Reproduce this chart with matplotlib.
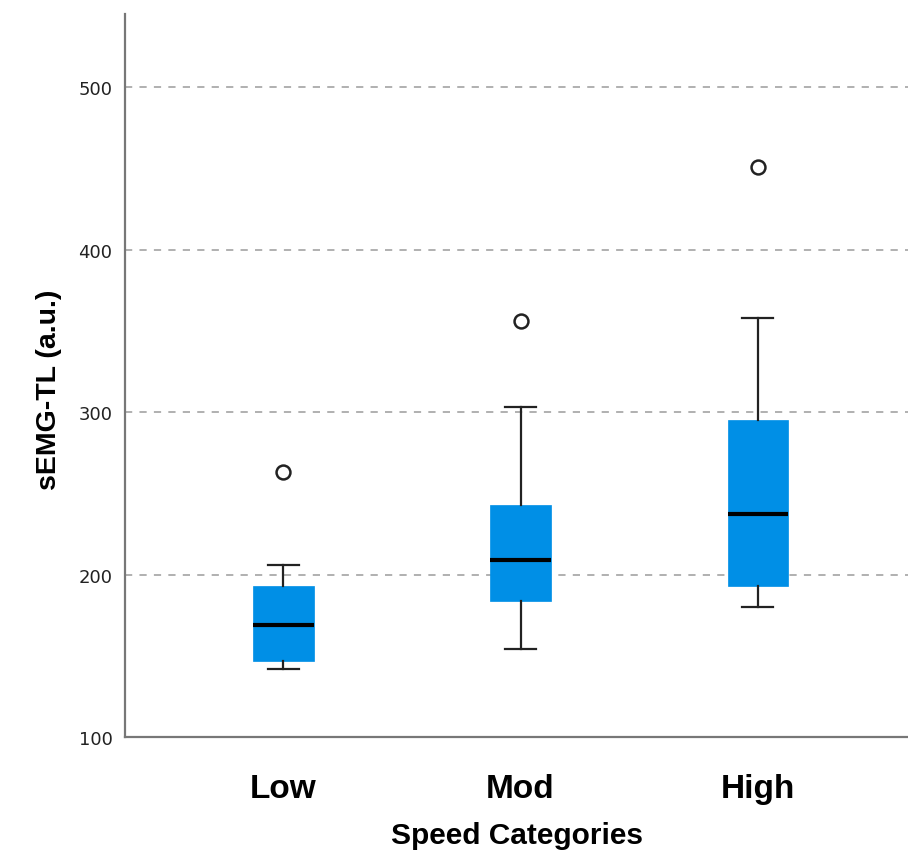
import matplotlib
matplotlib.use("Agg")
import matplotlib.pyplot as plt
from matplotlib import font_manager

# box statistics
categories = ["Low", "Mod", "High"]
q1 = [147, 184, 193]
median = [169, 209, 237]
q3 = [193, 243, 295]
whisker_low = [142, 154, 180]
whisker_high = [206, 303, 358]
outliers = [[263], [356], [451]]

yticks = [100, 200, 300, 400, 500]

names = {f.name for f in font_manager.fontManager.ttflist}
narrow = "Liberation Sans Narrow" if "Liberation Sans Narrow" in names else "Liberation Sans"

stats = []
for i, cat in enumerate(categories):
    stats.append(dict(label=cat, q1=q1[i], med=median[i], q3=q3[i],
                      whislo=whisker_low[i], whishi=whisker_high[i],
                      fliers=outliers[i]))

fig = plt.figure(figsize=(9.08, 8.54), dpi=100)
ax = fig.add_axes([0.1377, 0.1358, 0.8623, 0.8466])

ax.bxp(stats, positions=[1, 2, 3], widths=0.255, patch_artist=True,
       boxprops=dict(facecolor="#008FE6", edgecolor="#008FE6", linewidth=0.5),
       medianprops=dict(color="black", linewidth=3),
       whiskerprops=dict(color="#222222", linewidth=1.6),
       capprops=dict(color="#222222", linewidth=1.6),
       capwidths=0.13,
       flierprops=dict(marker="o", markersize=10, markerfacecolor="white",
                       markeredgecolor="#222222", markeredgewidth=1.8))

ax.set_xlim(0.333, 3.633)
ax.set_ylim(100, 545)
ax.set_yticks(yticks)
ax.set_yticklabels([str(v) for v in yticks], fontsize=13, color="#222222")
ax.set_xticks([1, 2, 3])
ax.set_xticklabels(categories, fontsize=24, fontweight="bold", family=narrow)
ax.tick_params(axis="y", length=0, pad=9)
ax.tick_params(axis="x", length=0, pad=26)

for v in yticks[1:]:
    ax.axhline(v, color="#aaaaaa", linewidth=1.3, linestyle=(0, (4, 4)), zorder=0)

for s in ["top", "right"]:
    ax.spines[s].set_visible(False)
for s in ["left", "bottom"]:
    ax.spines[s].set_color("#777777")
    ax.spines[s].set_linewidth(1.6)

ax.set_ylabel("sEMG-TL (a.u.)", fontsize=20.5, fontweight="bold", family=narrow)
ax.yaxis.set_label_coords(-0.08, 0.481)
ax.set_xlabel("Speed Categories", fontsize=21.5, fontweight="bold", family=narrow, labelpad=12)

fig.savefig("out.png", dpi=100)
